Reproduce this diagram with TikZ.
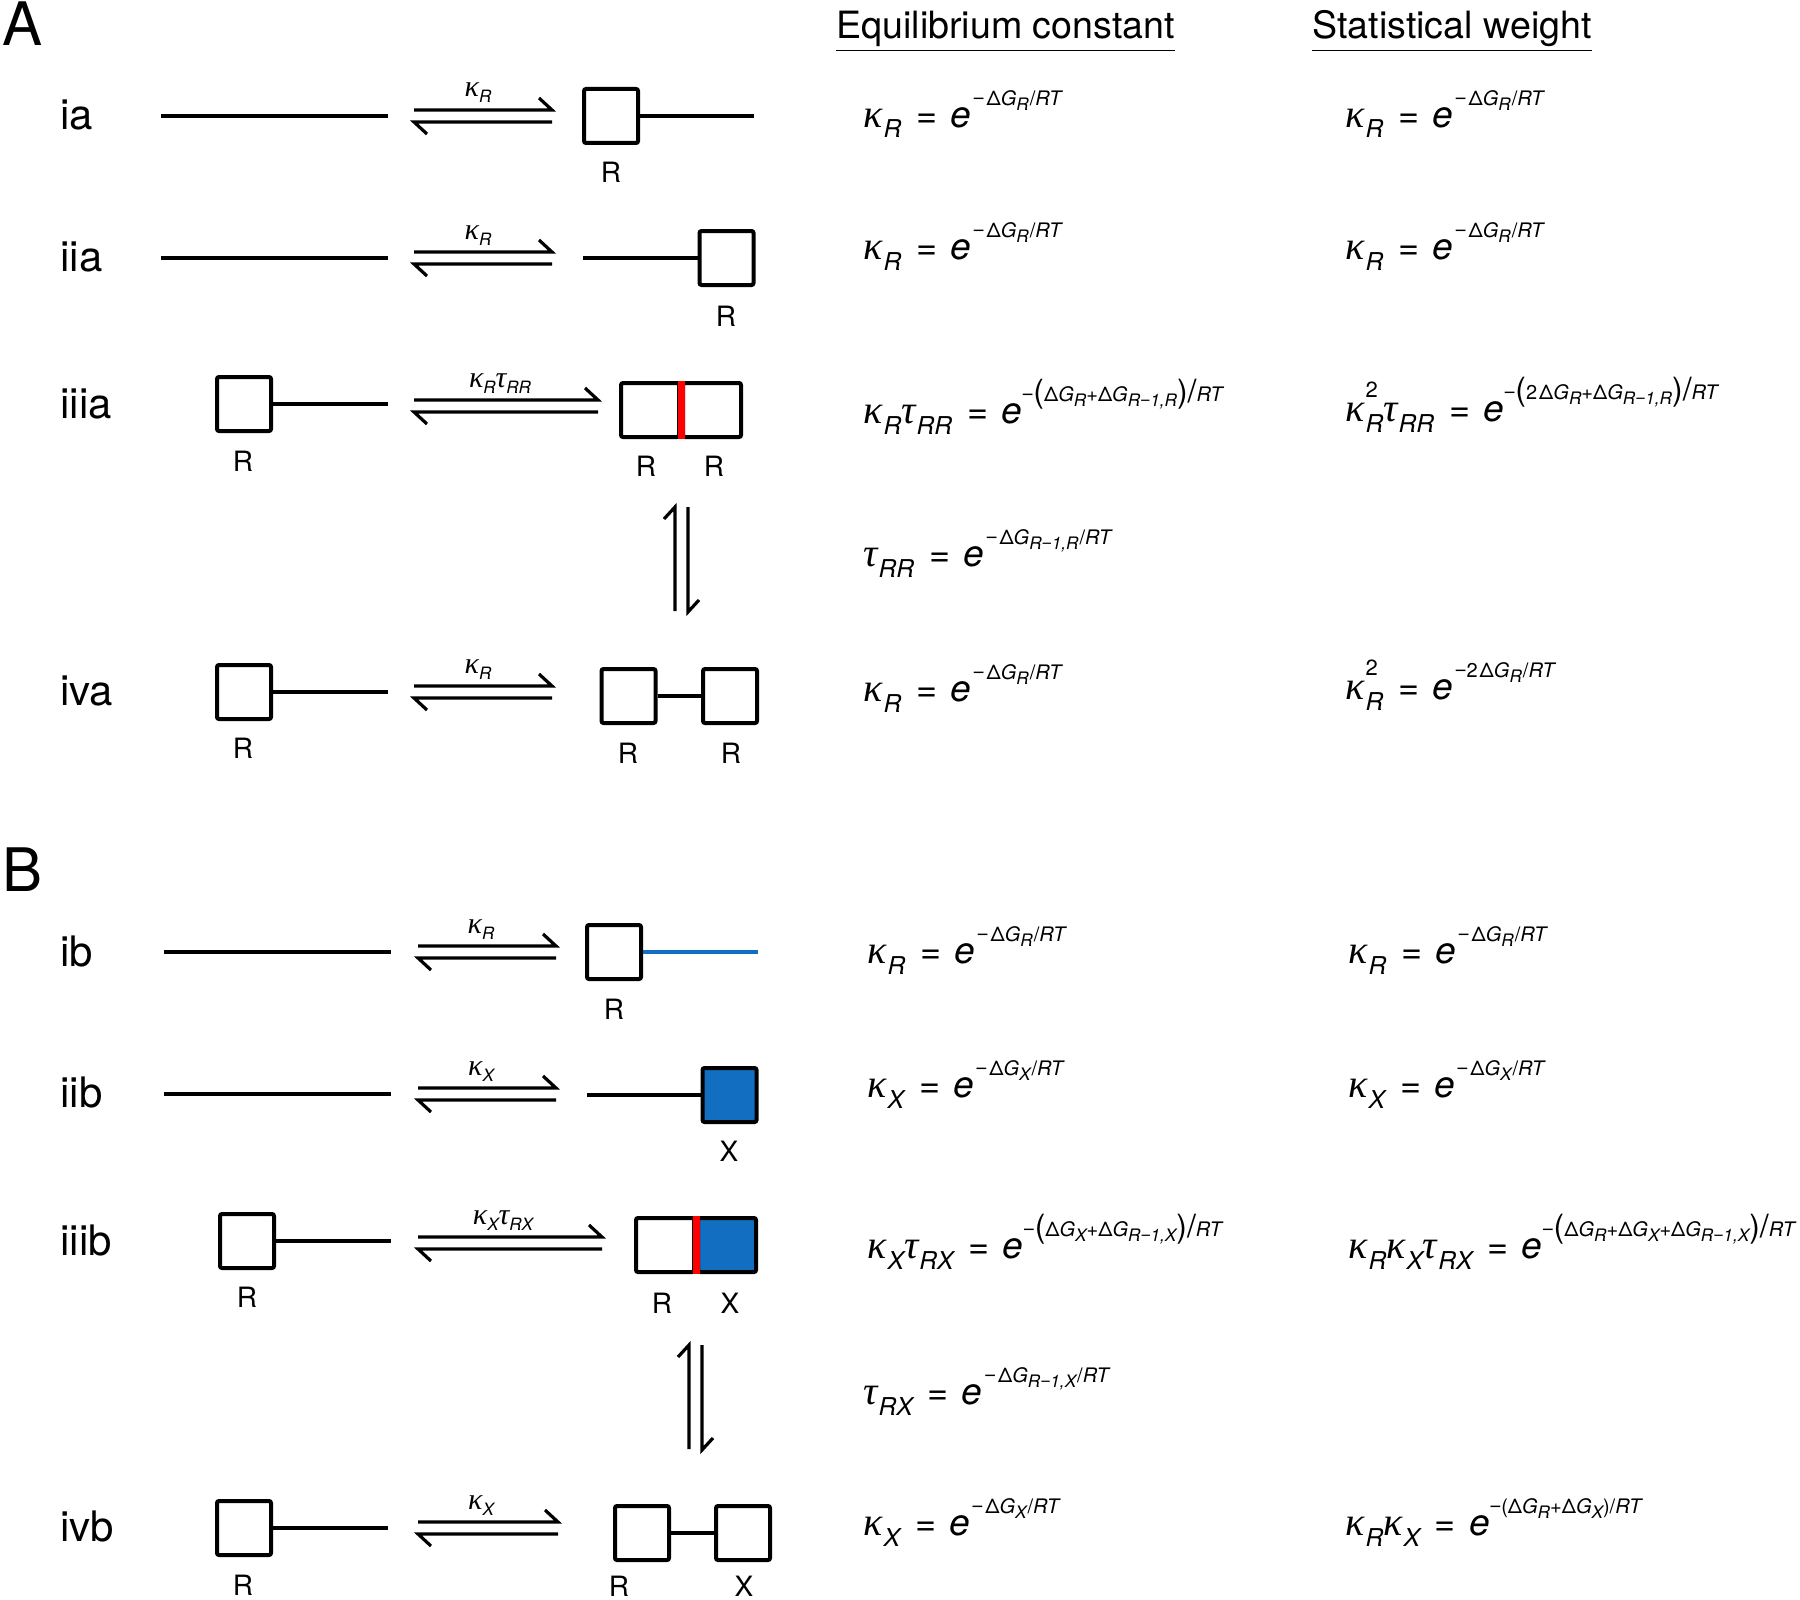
\documentclass[tikz,border=0pt]{standalone}
\usepackage{fontspec}
\setmainfont{TeX Gyre Heros}
\newfontfamily\gk{Liberation Serif}
\newfontfamily\lsans{Liberation Sans}
\definecolor{boxblue}{RGB}{18,110,192}
\definecolor{linkred}{RGB}{255,0,0}
% equation pieces
\newcommand\qK{{\gk\itshape\fontsize{20}{20}\selectfont κ}}
\newcommand\qT{{\gk\itshape\fontsize{20}{20}\selectfont τ}}
\newcommand\qSub[1]{\kern0.5pt\raisebox{-5.5pt}{\fontsize{12.3}{12.3}\selectfont\itshape #1}}
\newcommand\qSubTwo[1]{\kern0.5pt\rlap{\raisebox{12pt}{\fontsize{11}{11}\selectfont 2}}\raisebox{-5.5pt}{\fontsize{12.3}{12.3}\selectfont\itshape #1}}
\newcommand\qEq{\kern7.5pt{\fontsize{18}{18}\selectfont =}\kern6.5pt}
\newcommand\qE{{\fontsize{18.5}{18.5}\selectfont\itshape e}}
\newcommand\qSup[1]{\raisebox{11pt}{\fontsize{10}{10}\selectfont #1}}
\newcommand\qs[1]{\raisebox{-2.7pt}{\fontsize{8.6}{8.6}\selectfont\itshape #1}}
\newcommand\qD{Δ\textit{G}}
\newcommand\qL{\raisebox{-0.8pt}{\fontsize{16}{16}\selectfont(}}
\newcommand\qR{\raisebox{-0.8pt}{\fontsize{16}{16}\selectfont)}}
\newcommand\qSl{\raisebox{-0.8pt}{\fontsize{16}{16}\selectfont/}}
\newcommand\qRT{\textit{RT}}
\newcommand\qMi{{\lsans −}}
\newcommand\qM{\kern1pt\qMi}
\newcommand\qRm[1]{R\qMi 1,#1}
% arrow label pieces
\newcommand\aK{{\gk\itshape\fontsize{15}{15}\selectfont κ}}
\newcommand\aT{{\gk\itshape\fontsize{15}{15}\selectfont τ}}
\newcommand\aSub[1]{\raisebox{-3pt}{\fontsize{8.5}{8.5}\selectfont\itshape #1}}
\newcommand\harp[3]{%
  \draw[arr] (#1,#3-6) -- (#2,#3-6) -- (#2-13,#3-18);
  \draw[arr] (#2,#3+6) -- (#1,#3+6) -- (#1+13,#3+18);}
\begin{document}
\begin{tikzpicture}[x=0.5pt,y=-0.5pt,
  ln/.style={line width=2pt},
  arr/.style={line width=1.6pt},
  sq/.style={draw, line width=2pt, minimum width=27pt, minimum height=27pt, inner sep=0pt, rounded corners=1pt},
  sqw/.style={sq, minimum width=29pt},
  lbl/.style={inner sep=0pt, font=\fontsize{14}{14}\selectfont},
  rowlbl/.style={anchor=base west, inner sep=0pt, font=\fontsize{21}{21}\selectfont},
  eqn/.style={anchor=base west, inner sep=0pt},
  alab/.style={anchor=base, inner sep=0pt},
  redl/.style={draw=linkred, line width=3.5pt},
]
\useasboundingbox (0,0) rectangle (1800,1600);

% panel letters and headers
\node[anchor=base west, inner sep=0pt, font=\fontsize{30}{30}\selectfont] (pA) at (2,46) {A};
\node[anchor=base west, inner sep=0pt, font=\fontsize{30}{30}\selectfont] (pB) at (2,891) {B};
\node[anchor=base west, inner sep=0pt, font=\fontsize{18.8}{18.8}\selectfont] (h1) at (836,39) {\underline{Equilibrium constant}};
\node[anchor=base west, inner sep=0pt, font=\fontsize{18.8}{18.8}\selectfont] (h2) at (1312,39) {\underline{Statistical weight}};

% row labels
\node[rowlbl] (Lia) at (60,130) {ia};
\node[rowlbl] (Liia) at (60,271) {iia};
\node[rowlbl] (Liiia) at (60,418) {iiia};
\node[rowlbl] (Liva) at (60,705) {iva};
\node[rowlbl] (Lib) at (60,966) {ib};
\node[rowlbl] (Liib) at (60,1107) {iib};
\node[rowlbl] (Liiib) at (60,1255) {iiib};
\node[rowlbl] (Livb) at (60,1541) {ivb};

% ---------- row ia
\coordinate (ia1) at (161,116); \coordinate (ia2) at (388,116);
\draw[ln] (ia1) -- (ia2);
\harp{414}{552}{116}
\node[alab] (aia) at (478,97) {\aK\aSub{R}};
\node[sq] (iaB) at (611,116) {};
\coordinate (iaE) at (754,116);
\draw[ln] (iaB.east) -- (iaE);
\node[lbl] (iaR) at (611,172) {R};

% ---------- row iia
\coordinate (iia1) at (161,258); \coordinate (iia2) at (388,258);
\draw[ln] (iia1) -- (iia2);
\harp{414}{552}{258}
\node[alab] (aiia) at (478,239) {\aK\aSub{R}};
\node[sq] (iiaB) at (726.5,258) {};
\coordinate (iiaS) at (583,258);
\draw[ln] (iiaS) -- (iiaB.west);
\node[lbl] (iiaR) at (726,316) {R};

% ---------- row iiia
\node[sq] (iiiaB) at (244,404) {};
\coordinate (iiiaE) at (388,404);
\draw[ln] (iiiaB.east) -- (iiiaE);
\node[lbl] (iiiaR) at (243,461) {R};
\harp{414}{598}{406}
\node[alab] (aiiia) at (500,387) {\aK\aSub{R}\aT\aSub{RR}};
\node[sqw] (iiiaB1) at (650,410) {};
\node[sqw] (iiiaB2) at (712,410) {};
\draw[redl] (iiiaB1.north east) -- (iiiaB1.south east);
\node[lbl] (iiiaR1) at (646,466) {R};
\node[lbl] (iiiaR2) at (714,466) {R};

% vertical equilibrium A
\draw[arr] (675,611) -- (675,507) -- (664,519);
\draw[arr] (688,507) -- (688,612) -- (699,600);

% ---------- row iva
\node[sq] (ivaB) at (244,692) {};
\coordinate (ivaE) at (388,692);
\draw[ln] (ivaB.east) -- (ivaE);
\node[lbl] (ivaR) at (243,748) {R};
\harp{414}{552}{692}
\node[alab] (aiva) at (478,673) {\aK\aSub{R}};
\node[sq] (ivaB1) at (628.5,696) {};
\node[sq] (ivaB2) at (730,696) {};
\draw[ln] (ivaB1.east) -- (ivaB2.west);
\node[lbl] (ivaR1) at (628,753) {R};
\node[lbl] (ivaR2) at (731,753) {R};

% ---------- row ib
\coordinate (ib1) at (164,952); \coordinate (ib2) at (391,952);
\draw[ln] (ib1) -- (ib2);
\harp{418}{556}{952}
\node[alab] (aib) at (481,933) {\aK\aSub{R}};
\node[sq] (ibB) at (614,952) {};
\coordinate (ibE) at (758,952);
\draw[ln, draw=boxblue] (ibB.east) -- (ibE);
\node[lbl] (ibR) at (614,1009) {R};

% ---------- row iib
\coordinate (iib1) at (164,1094); \coordinate (iib2) at (391,1094);
\draw[ln] (iib1) -- (iib2);
\harp{418}{556}{1094}
\node[alab] (aiib) at (481,1075) {\aK\aSub{X}};
\node[sq, fill=boxblue] (iibB) at (729.5,1095) {};
\coordinate (iibS) at (587,1095);
\draw[ln] (iibS) -- (iibB.west);
\node[lbl] (iibX) at (729,1151) {X};

% ---------- row iiib
\node[sq] (iiibB) at (247,1241) {};
\coordinate (iiibE) at (391,1241);
\draw[ln] (iiibB.east) -- (iiibE);
\node[lbl] (iiibR) at (247,1297) {R};
\harp{418}{602}{1243}
\node[alab] (aiiib) at (503,1224) {\aK\aSub{X}\aT\aSub{RX}};
\node[sqw] (iiibB1) at (665,1245) {};
\node[sqw, fill=boxblue] (iiibB2) at (727,1245) {};
\draw[redl] (iiibB1.north east) -- (iiibB1.south east);
\node[lbl] (iiibR1) at (662,1303) {R};
\node[lbl] (iiibX1) at (730,1303) {X};

% vertical equilibrium B
\draw[arr] (689,1449) -- (689,1345) -- (678,1357);
\draw[arr] (702,1345) -- (702,1450) -- (713,1438);

% ---------- row ivb
\node[sq] (ivbB) at (244,1528) {};
\coordinate (ivbE) at (388,1528);
\draw[ln] (ivbB.east) -- (ivbE);
\node[lbl] (ivbR) at (243,1585) {R};
\harp{418}{558}{1528}
\node[alab] (aivb) at (481,1509) {\aK\aSub{X}};
\node[sq] (ivbB1) at (642,1533) {};
\node[sq] (ivbB2) at (743,1533) {};
\draw[ln] (ivbB1.east) -- (ivbB2.west);
\node[lbl] (ivbR1) at (619,1586) {R};
\node[lbl] (ivbX1) at (744,1586) {X};

% ---------- equilibrium constants
\node[eqn] (e1) at (863,127) {\qK\qSub{R}\qEq\qE\qSup{\qM\kern1pt\qD\qs{R}\kern0.5pt/\qRT}};
\node[eqn] (e2) at (863,259) {\qK\qSub{R}\qEq\qE\qSup{\qM\kern1pt\qD\qs{R}\kern0.5pt/\qRT}};
\node[eqn] (e3) at (863,423) {\qK\qSub{R}\qT\qSub{RR}\qEq\qE\qSup{\qMi\qL\qD\qs{R}+\qD\qs{\qRm{R}}\qR\qSl\qRT}};
\node[eqn] (e4) at (863,566) {\qT\qSub{RR}\qEq\qE\qSup{\qM\kern1pt\qD\qs{\qRm{R}}\kern0.5pt/\qRT}};
\node[eqn] (e5) at (863,701) {\qK\qSub{R}\qEq\qE\qSup{\qM\kern1pt\qD\qs{R}\kern0.5pt/\qRT}};
\node[eqn] (e6) at (867,963) {\qK\qSub{R}\qEq\qE\qSup{\qM\kern1pt\qD\qs{R}\kern0.5pt/\qRT}};
\node[eqn] (e7) at (867,1097) {\qK\qSub{X}\qEq\qE\qSup{\qM\kern1pt\qD\qs{X}\kern0.5pt/\qRT}};
\node[eqn] (e8) at (867,1258) {\qK\qSub{X}\qT\qSub{RX}\qEq\qE\qSup{\qMi\qL\qD\qs{X}+\qD\qs{\qRm{X}}\qR\qSl\qRT}};
\node[eqn] (e9) at (863,1404) {\qT\qSub{RX}\qEq\qE\qSup{\qM\kern1pt\qD\qs{\qRm{X}}\kern0.5pt/\qRT}};
\node[eqn] (e10) at (863,1535) {\qK\qSub{X}\qEq\qE\qSup{\qM\kern1pt\qD\qs{X}\kern0.5pt/\qRT}};

% ---------- statistical weights
\node[eqn] (w1) at (1345,127) {\qK\qSub{R}\qEq\qE\qSup{\qM\kern1pt\qD\qs{R}\kern0.5pt/\qRT}};
\node[eqn] (w2) at (1345,259) {\qK\qSub{R}\qEq\qE\qSup{\qM\kern1pt\qD\qs{R}\kern0.5pt/\qRT}};
\node[eqn] (w3) at (1345,421) {\qK\qSubTwo{R}\qT\qSub{RR}\qEq\qE\qSup{\qMi\qL 2\kern1pt\qD\qs{R}+\qD\qs{\qRm{R}}\qR\qSl\qRT}};
\node[eqn] (w5) at (1345,699) {\qK\qSubTwo{R}\qEq\qE\qSup{\qM 2\kern1pt\qD\qs{R}\kern0.5pt/\qRT}};
\node[eqn] (w6) at (1348,963) {\qK\qSub{R}\qEq\qE\qSup{\qM\kern1pt\qD\qs{R}\kern0.5pt/\qRT}};
\node[eqn] (w7) at (1348,1097) {\qK\qSub{X}\qEq\qE\qSup{\qM\kern1pt\qD\qs{X}\kern0.5pt/\qRT}};
\node[eqn] (w8) at (1348,1258) {\qK\qSub{R}\qK\qSub{X}\qT\qSub{RX}\qEq\qE\qSup{\qMi\qL\qD\qs{R}+\qD\qs{X}+\qD\qs{\qRm{X}}\qR\qSl\qRT}};
\node[eqn] (w10) at (1345,1535) {\qK\qSub{R}\qK\qSub{X}\qEq\qE\qSup{\qMi(\qD\qs{R}+\qD\qs{X})/\qRT}};
\end{tikzpicture}
\end{document}
